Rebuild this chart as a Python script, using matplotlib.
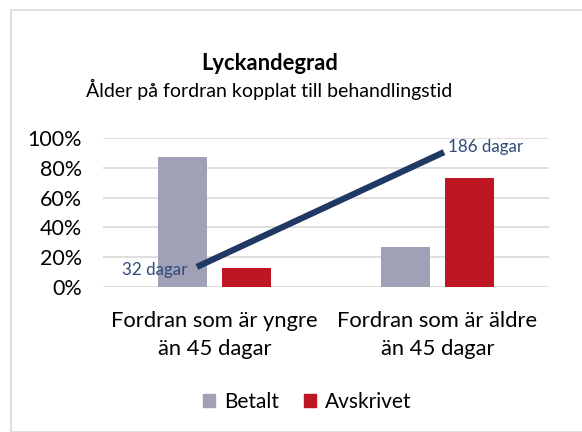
import matplotlib
matplotlib.use("Agg")
import matplotlib.pyplot as plt
from matplotlib.patches import Rectangle, Patch

categories = ["Fordran som är yngre\nän 45 dagar", "Fordran som är äldre\nän 45 dagar"]
betalt = [0.87, 0.27]
avskrivet = [0.13, 0.73]
dagar = [32, 186]
dagar_labels = ["32 dagar", "186 dagar"]
yticks = [0, 0.2, 0.4, 0.6, 0.8, 1.0]
ytick_labels = ["0%", "20%", "40%", "60%", "80%", "100%"]

plt.rcParams['font.family'] = ['Lato', 'DejaVu Sans']
W, H = 582, 432
fig = plt.figure(figsize=(W/100, H/100), dpi=100)

# chart border
fig.patches.append(Rectangle((11/W, 0), 1.0, 1 - 10/H, transform=fig.transFigure,
                             fill=False, edgecolor="#D9D9D9", linewidth=1.2))

ax_l, ax_r, ax_t, ax_b = 103, 549, 138, 287
ax = fig.add_axes([ax_l/W, 1 - ax_b/H, (ax_r-ax_l)/W, (ax_b-ax_t)/H])
bw = 0.22
gap = 0.063
x = [0, 1]
ax.bar([i - (bw+gap)/2 for i in x], betalt, width=bw, color="#A0A1B7", zorder=2)
ax.bar([i + (bw+gap)/2 for i in x], avskrivet, width=bw, color="#BE1622", zorder=2)
ax.set_xlim(-0.5, 1.5)
ax.set_ylim(0, 1.0)
ax.set_yticks(yticks)
ax.set_yticklabels(ytick_labels, fontsize=15.5, color="#000000")
ax.set_xticks(x)
ax.set_xticklabels(categories, fontsize=15.8, linespacing=1.55)
ax.grid(axis="y", color="#D9D9D9", linewidth=1.2, zorder=0)
for s in ax.spines.values():
    s.set_visible(False)
ax.tick_params(axis="y", length=0, pad=15)
ax.tick_params(axis="x", length=0, pad=17)

ax2 = fig.add_axes(ax.get_position(), frameon=False)
ax2.set_xlim(-0.38, 1.425)
ax2.set_ylim(5, 205)
ax2.plot(x, dagar, color="#1F3864", linewidth=4.5, solid_capstyle="butt", zorder=3)
ax2.set_xticks([]); ax2.set_yticks([])
ax2.annotate(dagar_labels[0], (x[0], dagar[0]), xytext=(-7, -2), textcoords="offset points",
             ha="right", va="center", fontsize=12.2, color="#2E4A7A")
ax2.annotate(dagar_labels[1], (x[1], dagar[1]), xytext=(3, 4), textcoords="offset points",
             ha="left", va="center", fontsize=12.2, color="#2E4A7A")

fig.text(270/W, 1 - 63/H, "Lyckandegrad", ha="center", va="center", fontsize=15.8,
         fontweight="bold")
fig.text(269/W, 1 - 89/H, "Ålder på fordran kopplat till behandlingstid", ha="center",
         va="center", fontsize=14)

handles = [Patch(color="#A0A1B7", label="Betalt"), Patch(color="#BE1622", label="Avskrivet")]
fig.legend(handles=handles, loc="center", bbox_to_anchor=(307/W, 1 - 402/H), ncol=2,
           frameon=False, fontsize=15, handlelength=0.6, handleheight=0.6,
           handletextpad=0.4, columnspacing=1.2)

fig.savefig("out.png", dpi=100)
